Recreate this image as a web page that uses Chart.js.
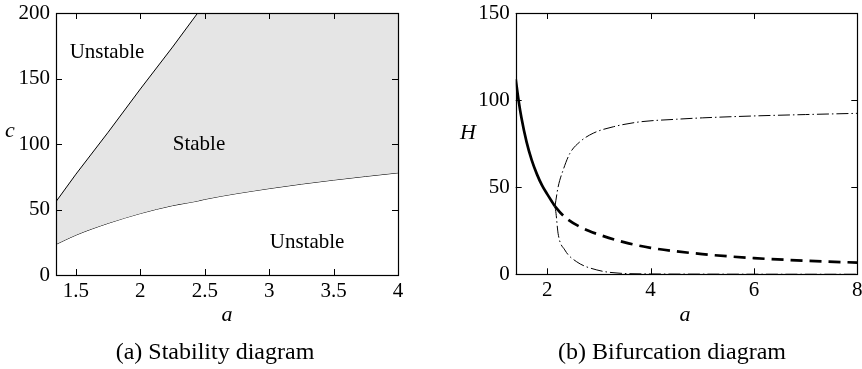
<!DOCTYPE html>
<html>
<head>
<meta charset="utf-8">
<script src="https://cdn.jsdelivr.net/npm/chart.js@4/dist/chart.umd.min.js"></script>
<style>
  html, body { margin: 0; padding: 0; background: #fff; }
  #wrap { position: relative; width: 862px; height: 369px; }
  canvas { position: absolute; top: 0; }
</style>
</head>
<body>
<div id="wrap">
  <canvas id="left" width="430" height="369" style="left:0"></canvas>
  <canvas id="right" width="432" height="369" style="left:430px"></canvas>
</div>
<script>
// ---------- Data: (a) Stability diagram ----------
const aBound  = [1.345, 1.5, 1.75, 2.0, 2.25, 2.445, 2.5, 3.0, 3.5, 4.0];
const cUpper  = [56, 77, 109, 142, 174, 200, 200, 200, 200, 200];
const cLower  = [23.4, 30.5, 39.5, 47, 53, 56.5, 57.8, 66, 72.5, 78];
const stabXTicks = [1.5, 2, 2.5, 3, 3.5, 4];
const stabYTicks = [0, 50, 100, 150, 200];
const regionLabels = ['Unstable', 'Stable', 'Unstable'];
const regionA = [1.741, 2.455, 3.294];
const regionC = [169.5, 100, 25.2];

// ---------- Data: (b) Bifurcation diagram ----------
const aSolid = [1.39, 1.45, 1.5, 1.6, 1.7, 1.8, 1.9, 2.0, 2.1, 2.15];
const hSolid = [112, 99, 90, 76, 65.5, 57.5, 51, 46, 41.3, 39];
const aDashed = [2.15, 2.25, 2.4, 2.6, 2.8, 3, 3.5, 4, 5, 6, 7, 8];
const hDashed = [39, 35.5, 31.5, 27.8, 25, 22.8, 18.3, 15.2, 11.6, 9.3, 7.8, 6.7];
const aDDUp = [2.15, 2.21, 2.31, 2.44, 2.63, 2.89, 3.28, 3.79, 4.5, 5, 6, 7, 8];
const hDDUp = [39, 50, 60, 69.5, 76, 81, 84.7, 87.5, 89, 89.8, 90.9, 91.7, 92.4];
const aDDLow = [2.15, 2.17, 2.21, 2.34, 2.57, 2.96, 3.41, 4, 5, 6, 7, 8];
const hDDLow = [39, 35, 23.5, 14, 7.2, 2.5, 0.6, 0.2, 0.1, 0.05, 0.03, 0.02];
const bifXTicks = [2, 4, 6, 8];
const bifYTicks = [0, 50, 100, 150];

const pts = (xs, ys) => xs.map((x, i) => ({ x: x, y: ys[i] }));
const FONT = "'Liberation Serif', 'Times New Roman', serif";

function framePlugin(opts) {
  return {
    id: 'frame',
    afterDraw(chart) {
      const ctx = chart.ctx, a = chart.chartArea;
      const xs = chart.scales.x, ys = chart.scales.y;
      ctx.save();
      ctx.strokeStyle = '#000';
      ctx.lineWidth = 1.2;
      ctx.strokeRect(Math.round(a.left) + 0.5, Math.round(a.top) + 0.5,
        Math.round(a.right) - Math.round(a.left), Math.round(a.bottom) - Math.round(a.top));
      const L = 6;
      ctx.lineWidth = 1;
      ctx.beginPath();
      xs.ticks.forEach(t => {
        const p = Math.round(xs.getPixelForValue(t.value)) + 0.5;
        ctx.moveTo(p, a.bottom); ctx.lineTo(p, a.bottom - L);
        ctx.moveTo(p, a.top); ctx.lineTo(p, a.top + L);
      });
      ys.ticks.forEach(t => {
        const p = Math.round(ys.getPixelForValue(t.value)) + 0.5;
        ctx.moveTo(a.left, p); ctx.lineTo(a.left + L, p);
        ctx.moveTo(a.right, p); ctx.lineTo(a.right - L, p);
      });
      ctx.stroke();
      // axis titles and caption
      ctx.fillStyle = '#000';
      ctx.textAlign = 'center';
      ctx.textBaseline = 'middle';
      ctx.font = 'italic 22px ' + FONT;
      ctx.fillText(opts.xTitle, opts.xTitlePos[0], opts.xTitlePos[1]);
      ctx.fillText(opts.yTitle, opts.yTitlePos[0], opts.yTitlePos[1]);
      ctx.font = '24px ' + FONT;
      ctx.fillText(opts.caption, opts.captionPos[0], opts.captionPos[1]);
      if (opts.labels) {
        ctx.font = '21px ' + FONT;
        opts.labels.forEach((txt, i) => {
          ctx.fillText(txt, xs.getPixelForValue(opts.labelA[i]), ys.getPixelForValue(opts.labelC[i]));
        });
      }
      ctx.restore();
    }
  };
}

function axes(xmin, xmax, xt, ymin, ymax, yt, yWidth, xHeight) {
  return {
    x: {
      type: 'linear', min: xmin, max: xmax,
      afterBuildTicks: s => { s.ticks = xt.map(v => ({ value: v })); },
      afterFit: s => { s.height = xHeight; s.paddingLeft = 0; s.paddingRight = 0; },
      grid: { display: false, drawTicks: false },
      border: { display: false },
      ticks: { color: '#000', font: { family: FONT, size: 21 }, padding: 4, maxRotation: 0,
               callback: v => String(v) }
    },
    y: {
      type: 'linear', min: ymin, max: ymax,
      afterBuildTicks: s => { s.ticks = yt.map(v => ({ value: v })); },
      afterFit: s => { s.width = yWidth; s.paddingTop = 0; s.paddingBottom = 0; },
      grid: { display: false, drawTicks: false },
      border: { display: false },
      ticks: { color: '#000', font: { family: FONT, size: 21 }, padding: 6,
               callback: v => String(v) }
    }
  };
}

const common = {
  responsive: false,
  animation: false,
  events: [],
  plugins: { legend: { display: false }, tooltip: { enabled: false } },
  elements: { point: { radius: 0 } }
};

new Chart(document.getElementById('left'), {
  type: 'scatter',
  data: {
    datasets: [
      { data: pts(aBound, cUpper), showLine: true, borderColor: '#000', borderWidth: 1,
        backgroundColor: '#e5e5e5', fill: '+1', pointRadius: 0 },
      { data: pts(aBound, cLower), showLine: true, borderColor: '#000', borderWidth: 1,
        cubicInterpolationMode: 'monotone', pointRadius: 0, fill: false }
    ]
  },
  options: Object.assign({}, common, {
    layout: { padding: { left: 0, top: 13, right: 32, bottom: 0 } },
    scales: axes(1.345, 4, stabXTicks, 0, 200, stabYTicks, 56, 94)
  }),
  plugins: [framePlugin({
    xTitle: 'a', xTitlePos: [227, 315],
    yTitle: 'c', yTitlePos: [10, 131],
    caption: '(a) Stability diagram', captionPos: [215, 353],
    labels: regionLabels, labelA: regionA, labelC: regionC
  })]
});

new Chart(document.getElementById('right'), {
  type: 'scatter',
  data: {
    datasets: [
      { data: pts(aSolid, hSolid), showLine: true, borderColor: '#000', borderWidth: 2.7,
        cubicInterpolationMode: 'monotone', pointRadius: 0 },
      { data: pts(aDashed, hDashed), showLine: true, borderColor: '#000', borderWidth: 2.7,
        borderDash: [12, 7], cubicInterpolationMode: 'monotone', pointRadius: 0 },
      { data: pts(aDDUp, hDDUp), showLine: true, borderColor: '#000', borderWidth: 1,
        borderDash: [12, 3, 1.5, 3], cubicInterpolationMode: 'monotone', pointRadius: 0 },
      { data: pts(aDDLow, hDDLow), showLine: true, borderColor: '#000', borderWidth: 1,
        borderDash: [12, 3, 1.5, 3], cubicInterpolationMode: 'monotone', pointRadius: 0 }
    ]
  },
  options: Object.assign({}, common, {
    layout: { padding: { left: 0, top: 13, right: 4.7, bottom: 0 } },
    scales: axes(1.39, 8, bifXTicks, 0, 150, bifYTicks, 85.7, 94.7)
  }),
  plugins: [framePlugin({
    xTitle: 'a', xTitlePos: [255, 315],
    yTitle: 'H', yTitlePos: [38, 133],
    caption: '(b) Bifurcation diagram', captionPos: [242, 353]
  })]
});
</script>
</body>
</html>
